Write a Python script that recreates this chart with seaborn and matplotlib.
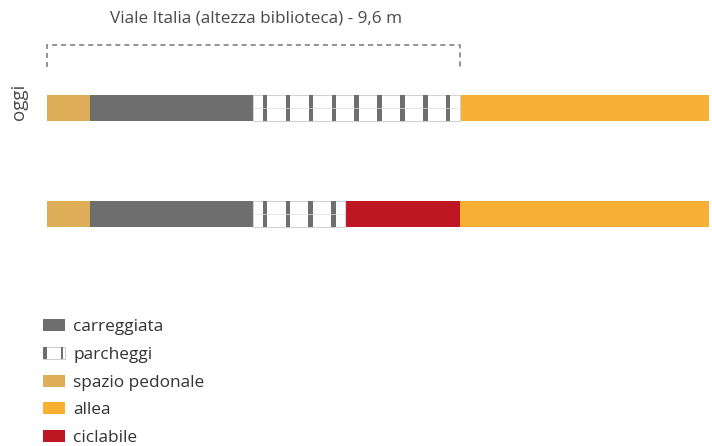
import pandas as pd
import seaborn as sns
import matplotlib.pyplot as plt
from matplotlib.patches import Patch, Rectangle
from matplotlib.legend_handler import HandlerBase

# Dati: larghezze delle sezioni stradali (metri)
righe = ["oggi", "progetto"]
etichette_righe = ["oggi", ""]
usi_oggi = ["spazio pedonale", "carreggiata", "parcheggi", "allea"]
larghezze_oggi = [1.0, 3.8, 4.8, 5.8]
usi_progetto = ["spazio pedonale", "carreggiata", "parcheggi", "ciclabile", "allea"]
larghezze_progetto = [1.0, 3.8, 2.13, 2.67, 5.8]
posti_auto = [9, 4]
larghezza_viale = 9.6
titolo = "Viale Italia (altezza biblioteca) - 9,6 m"
voci_legenda = ["carreggiata", "parcheggi", "spazio pedonale", "allea", "ciclabile"]

colori = {
    "carreggiata": "#6f6e6e",
    "parcheggi": "#ffffff",
    "spazio pedonale": "#dfae58",
    "allea": "#f7b034",
    "ciclabile": "#be1622",
}
GRIGIO_STRISCE = "#6f6e6e"
GRIGIO_TESTO = "#333333"

# Scala in pixel (figura 712x446 a 100 dpi)
X0, PXM = 47, 43.0        # x=0 m a 47 px, 43 px per metro
Y0, PASSO = 108, 106      # centro della prima riga e distanza fra le righe
ALTEZZA_BARRA = 26 / PASSO


def px(x, y):
    return (x - X0) / PXM, (y - Y0) / PASSO


# Tabella lunga con la fine cumulata di ogni tratto
record = []
for riga, usi, larg in [(righe[0], usi_oggi, larghezze_oggi),
                        (righe[1], usi_progetto, larghezze_progetto)]:
    fine = 0
    for pos, (uso, w) in enumerate(zip(usi, larg)):
        inizio = fine
        fine = fine + w
        record.append({"riga": riga, "uso": uso, "pos": pos,
                       "inizio": inizio, "larghezza": w, "fine": fine})
df = pd.DataFrame(record)

sns.set_theme(style="white")
plt.rcParams['font.family'] = ['Open Sans', 'DejaVu Sans']

fig = plt.figure(figsize=(7.12, 4.46), dpi=100)
ax = fig.add_axes([0, 0, 1, 1])

# Barre sovrapposte: dalla fine cumulata più lunga alla più corta
for pos in sorted(df["pos"].unique(), reverse=True):
    sub = df[df["pos"] == pos]
    sns.barplot(data=sub, x="fine", y="riga", hue="uso", palette=colori,
                order=righe, orient="h", dodge=False, legend=False,
                width=ALTEZZA_BARRA, saturation=1, linewidth=0,
                errorbar=None, ax=ax)

# Parcheggi: bordo chiaro e strisce dei posti auto
parch = df[df["uso"] == "parcheggi"].reset_index(drop=True)
for i, r in parch.iterrows():
    yi = righe.index(r["riga"])
    ax.barh(yi, r["larghezza"], left=r["inizio"], height=ALTEZZA_BARRA,
            fill=False, edgecolor="#d2d2d2", linewidth=0.8)
    ax.plot([r["inizio"], r["fine"]], [yi, yi], color="#e0e0e0", lw=0.5)
    n = posti_auto[i]
    passo = r["larghezza"] / n
    centri = [r["inizio"] + (k + 0.5) * passo for k in range(n)]
    ax.bar(centri, ALTEZZA_BARRA, width=0.1, bottom=yi - ALTEZZA_BARRA / 2,
           color=GRIGIO_STRISCE, linewidth=0)

# Parentesi tratteggiata sopra la larghezza del viale
_, y_top = px(0, 45)
_, y_bot = px(0, 67)
ax.plot([0, 0, larghezza_viale, larghezza_viale], [y_bot, y_top, y_top, y_bot],
        color="#8a8a8a", lw=1.3, linestyle=(0, (2.8, 2.2)))
ax.text(larghezza_viale / 2 + 3 / PXM, px(0, 19)[1], titolo, ha="center",
        va="center", fontsize=12.3, color="#4a4a4a")

# Etichette di riga
for yi, lab in enumerate(etichette_righe):
    if lab:
        ax.text(px(19, 0)[0], yi - 6 / PASSO, lab, rotation=90, ha="center",
                va="center", fontsize=13.5, color="#4a4a4a")

x_min, _ = px(0, 0)
x_max, _ = px(712, 0)
_, y_min = px(0, 0)
_, y_max = px(0, 446)
ax.set_xlim(x_min, x_max)
ax.set_ylim(y_max, y_min)
ax.axis("off")


# Legenda con icona speciale per i parcheggi
class HandlerParcheggi(HandlerBase):
    def create_artists(self, legend, orig_handle, xdescent, ydescent,
                       width, height, fontsize, trans):
        x, y = -xdescent, -ydescent
        fondo = Rectangle((x, y), width, height, facecolor="white",
                          edgecolor="#cccccc", lw=0.7, transform=trans)
        s1 = Rectangle((x, y), width * 0.18, height, facecolor=GRIGIO_STRISCE,
                       lw=0, transform=trans)
        s2 = Rectangle((x + width * 0.8, y), width * 0.1, height,
                       facecolor=GRIGIO_STRISCE, lw=0, transform=trans)
        return [fondo, s1, s2]


maniglie = []
mappa = {}
for voce in voci_legenda:
    p = Patch(facecolor=colori[voce], linewidth=0)
    if voce == "parcheggi":
        mappa[p] = HandlerParcheggi()
    maniglie.append(p)

fig.legend(maniglie, voci_legenda, loc="upper left",
           bbox_to_anchor=(43 / 712, 1 - 319 / 446), frameon=False,
           fontsize=12.4, handlelength=1.28, handleheight=0.7,
           handletextpad=0.47, labelspacing=0.68, borderpad=0,
           borderaxespad=0, handler_map=mappa, labelcolor=GRIGIO_TESTO)

fig.savefig("out.png", dpi=100)
